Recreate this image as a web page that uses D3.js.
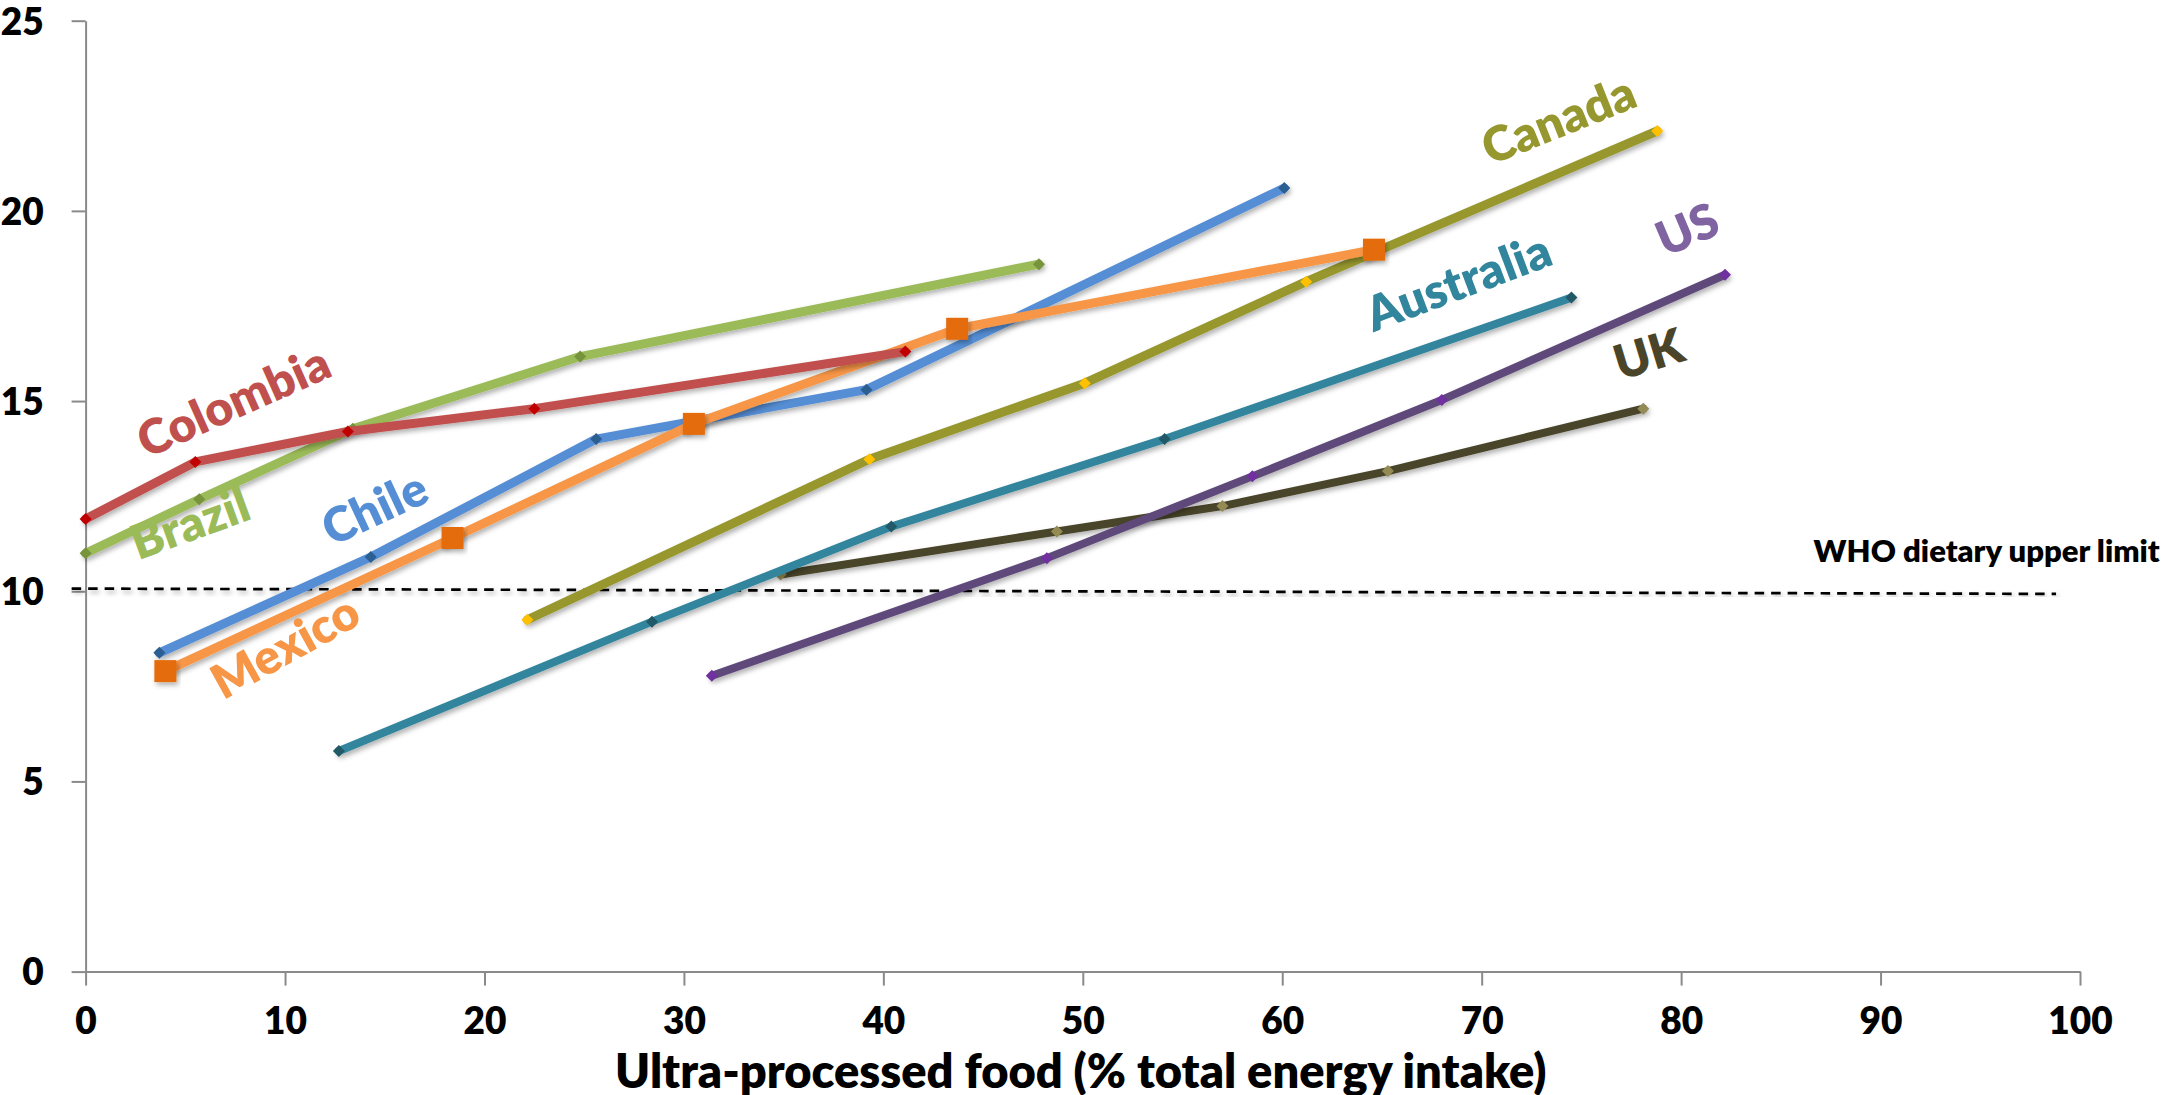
<!DOCTYPE html>
<html>
<head>
<meta charset="utf-8">
<script src="https://cdn.jsdelivr.net/npm/d3@7"></script>
<style>
  html, body { margin: 0; padding: 0; background: #ffffff; }
  svg { display: block; }
  text { font-family: Lato, "Open Sans", sans-serif; font-weight: 800; }
</style>
</head>
<body>
<svg id="chart" width="2164" height="1095"></svg>
<script>
// Ultra-processed food share of energy (x, %) vs. free sugars share of energy (y, %)
const colombia  = [[0, 11.9], [5.5, 13.4], [13.15, 14.2], [22.5, 14.8], [41.1, 16.3]];
const brazil    = [[0, 11.0], [5.7, 12.42], [13.4, 14.27], [24.8, 16.17], [47.8, 18.6]];
const chile     = [[3.7, 8.38], [14.3, 10.9], [25.6, 14.0], [39.15, 15.3], [60.1, 20.6]];
const mexico    = [[4.0, 7.9], [18.4, 11.4], [30.5, 14.4], [43.7, 16.9], [64.6, 18.98]];
const canada    = [[22.15, 9.25], [39.3, 13.47], [50.1, 15.47], [61.2, 18.14], [78.8, 22.1]];
const australia = [[12.7, 5.8], [28.4, 9.2], [40.4, 11.7], [54.1, 14.0], [74.5, 17.72]];
const us        = [[31.4, 7.78], [48.2, 10.87], [58.5, 13.02], [68.0, 15.03], [82.2, 18.32]];
const uk        = [[34.85, 10.44], [48.7, 11.57], [57.0, 12.24], [65.3, 13.16], [78.1, 14.8]];

const whoLimit  = [[-0.7, 10.07], [98.8, 9.93]];
const whoText   = "WHO dietary upper limit";

const xTicks = [0, 10, 20, 30, 40, 50, 60, 70, 80, 90, 100];
const yTicks = [0, 5, 10, 15, 20, 25];
const xTitle = "Ultra-processed food (% total energy intake)";

// series styling and draw order
const series = [
  { name: "UK",        data: uk,        line: "#4a4529", marker: "#948a54", shape: "diamond", width: 8 },
  { name: "Australia", data: australia, line: "#31859c", marker: "#215968", shape: "diamond", width: 8 },
  { name: "US",        data: us,        line: "#5f497a", marker: "#7030a0", shape: "diamond", width: 8 },
  { name: "Canada",    data: canada,    line: "#97972f", marker: "#ffc000", shape: "diamond", width: 9 },
  { name: "Chile",     data: chile,     line: "#558ed5", marker: "#2b5e91", shape: "diamond", width: 9 },
  { name: "Mexico",    data: mexico,    line: "#f79646", marker: "#e46c0a", shape: "square",  width: 9 },
  { name: "Brazil",    data: brazil,    line: "#9bbb59", marker: "#77933c", shape: "diamond", width: 9 },
  { name: "Colombia",  data: colombia,  line: "#c0504d", marker: "#c00000", shape: "diamond", width: 9 }
];

// inline series labels: anchor in data units, rotation in degrees
const labels = [
  { name: "Colombia",  x: 3.06,  y: 13.48, angle: -24,   color: "#c0504d" },
  { name: "Brazil",    x: 2.64,  y: 10.81, angle: -20,   color: "#9bbb59" },
  { name: "Chile",     x: 12.35, y: 11.17, angle: -25,   color: "#558ed5" },
  { name: "Mexico",    x: 6.9,   y: 7.13,  angle: -29,   color: "#f79646" },
  { name: "Australia", x: 64.58, y: 16.81, angle: -20.6, color: "#31859c" },
  { name: "Canada",    x: 70.43, y: 21.19, angle: -21.8, color: "#97972f" },
  { name: "US",        x: 79.2,  y: 18.78, angle: -23,   color: "#8064a2" },
  { name: "UK",        x: 76.95, y: 15.54, angle: -17,   color: "#4a4529" }
];

const svg = d3.select("#chart");
const x = d3.scaleLinear().domain([0, 100]).range([85.6, 2080]);
const y = d3.scaleLinear().domain([0, 25]).range([971.6, 20.7]);

const defs = svg.append("defs");
defs.append("filter").attr("id", "shadow")
  .attr("x", "-10%").attr("y", "-30%").attr("width", "130%").attr("height", "180%")
  .append("feDropShadow")
  .attr("dx", 2).attr("dy", 3).attr("stdDeviation", 2.4)
  .attr("flood-color", "#000").attr("flood-opacity", 0.3);

// axes
const axisColor = "#8a8a8a";
const yAxis = svg.append("g")
  .attr("transform", `translate(${x(0)},0)`)
  .call(d3.axisLeft(y).tickValues(yTicks).tickSize(14).tickSizeOuter(0).tickPadding(28));
const xAxis = svg.append("g")
  .attr("transform", `translate(0,${y(0)})`)
  .call(d3.axisBottom(x).tickValues(xTicks).tickSize(14).tickSizeOuter(0));

[yAxis, xAxis].forEach(g => {
  g.select(".domain").attr("stroke", axisColor).attr("stroke-width", 2);
  g.selectAll(".tick line").attr("stroke", axisColor).attr("stroke-width", 2);
  g.selectAll(".tick text")
    .attr("fill", "#000")
    .style("font-size", "37px")
    .style("font-family", "Lato, 'Open Sans', sans-serif")
    .style("font-weight", 800);
});
xAxis.selectAll(".tick text").attr("y", 62).attr("dy", null);
yAxis.selectAll(".tick text").attr("dy", "0.36em");

// WHO reference line
svg.append("path")
  .datum(whoLimit)
  .attr("d", d3.line().x(d => x(d[0])).y(d => y(d[1])))
  .attr("fill", "none")
  .attr("stroke", "#000")
  .attr("stroke-width", 2.7)
  .attr("stroke-dasharray", "9.5 7")
  .attr("filter", "url(#shadow)");

svg.append("text")
  .attr("x", x(104))
  .attr("y", y(10.78))
  .attr("text-anchor", "end")
  .attr("fill", "#000")
  .style("font-size", "31px")
  .text(whoText);

// country lines
const line = d3.line().x(d => x(d[0])).y(d => y(d[1]));
const diamond = r => `M0,${-r}L${r},0L0,${r}L${-r},0Z`;

series.forEach(s => {
  const g = svg.append("g").attr("class", "series");
  g.append("path")
    .datum(s.data)
    .attr("d", line)
    .attr("fill", "none")
    .attr("stroke", s.line)
    .attr("stroke-width", s.width)
    .attr("stroke-linejoin", "round")
    .attr("stroke-linecap", "round")
    .attr("filter", "url(#shadow)");
  if (s.shape === "square") {
    g.selectAll("rect").data(s.data).join("rect")
      .attr("x", d => x(d[0]) - 11)
      .attr("y", d => y(d[1]) - 11)
      .attr("width", 22).attr("height", 22)
      .attr("fill", s.marker)
      .attr("filter", "url(#shadow)");
  } else {
    g.selectAll("path.m").data(s.data).join("path")
      .attr("class", "m")
      .attr("transform", d => `translate(${x(d[0])},${y(d[1])})`)
      .attr("d", diamond(6))
      .attr("fill", s.marker);
  }
});

// rotated country labels
svg.append("g").selectAll("text").data(labels).join("text")
  .attr("transform", d => `translate(${x(d.x)},${y(d.y)}) rotate(${d.angle})`)
  .attr("fill", d => d.color)
  .style("font-size", "48px")
  .text(d => d.name);

// x-axis title
svg.append("text")
  .attr("x", x(49.9))
  .attr("y", 1088)
  .attr("text-anchor", "middle")
  .attr("fill", "#000")
  .style("font-size", "47px")
  .text(xTitle);
</script>
</body>
</html>
